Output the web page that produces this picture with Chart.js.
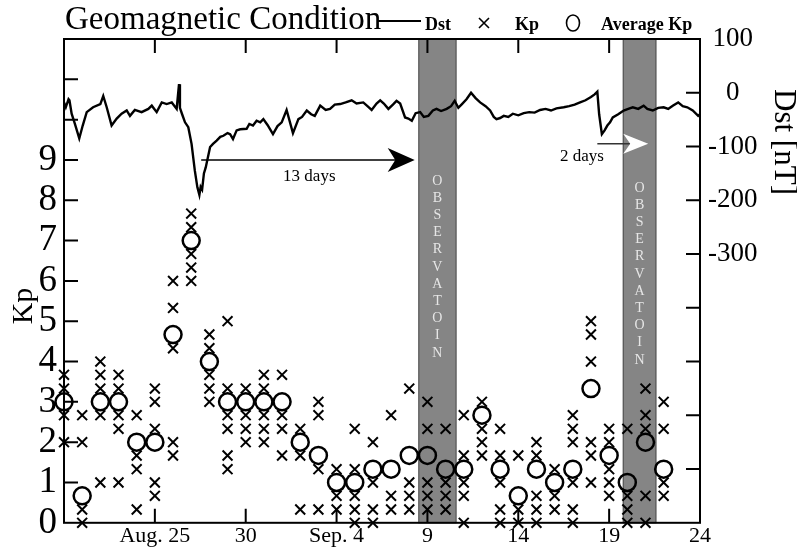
<!DOCTYPE html>
<html lang="en">
<head>
<meta charset="UTF-8">
<title>Geomagnetic Condition</title>
<script src="https://cdn.jsdelivr.net/npm/chart.js"></script>
<style>
    body { margin: 0; background: #fff; }
    canvas { display: block; }
</style>
</head>
<body>
<canvas id="chart" width="797" height="552"></canvas>
<script>
// days counted from Aug. 20 (0) to Sep. 24 (35)
const xTickDays = [5, 10, 15, 20, 25, 30, 35];
const xTickLabels = ['Aug. 25', '30', 'Sep. 4', '9', '14', '19', '24'];

// Dst index [nT]
const dstDays = [0.0, 0.1, 0.25, 0.3, 0.42, 0.6, 0.84, 1.03, 1.25, 1.6, 2.0, 2.16, 2.35, 2.62, 2.9, 3.17, 3.45, 3.63, 3.9, 4.27,
    4.64, 4.83, 5.1, 5.38, 5.65, 5.93, 6.2, 6.33, 6.38, 6.5, 6.66, 6.84, 7.02, 7.2, 7.34, 7.45, 7.52, 7.6, 7.7, 7.8,
    8.04, 8.2, 8.4, 8.6, 8.77, 9.0, 9.14, 9.3, 9.5, 9.7, 10.05, 10.2, 10.4, 10.6, 10.8, 10.97, 11.2, 11.5, 11.75, 11.98,
    12.25, 12.6, 12.9, 13.1, 13.36, 13.6, 13.8, 14.1, 14.4, 14.64, 14.9, 15.2, 15.5, 15.83, 16.1, 16.47, 16.7, 16.93, 17.2, 17.4,
    17.6, 17.85, 18.1, 18.3, 18.5, 18.77, 18.95, 19.14, 19.35, 19.6, 19.8, 20.05, 20.3, 20.5, 20.75, 21.06, 21.3, 21.5, 21.7, 21.9,
    22.15, 22.4, 22.65, 22.9, 23.2, 23.45, 23.65, 23.8, 24.0, 24.2, 24.45, 24.7, 25.0, 25.3, 25.6, 25.9, 26.2, 26.5, 26.8, 27.1,
    27.5, 27.8, 28.1, 28.4, 28.7, 29.0, 29.2, 29.35, 29.45, 29.6, 29.75, 29.9, 30.05, 30.2, 30.5, 30.8, 31.05, 31.3, 31.6, 31.9,
    32.1, 32.4, 32.7, 33.0, 33.25, 33.5, 33.8, 34.05, 34.3, 34.6, 34.9, 35.0];
const dstValues = [-18, -27, -12, -14, -39, -58, -85, -61, -36, -27, -21, -6, -27, -61, -48, -39, -33, -43, -32, -36,
    -30, -24, -36, -18, -21, -18, -30, 16, -28, -40, -55, -64, -95, -145, -176, -190, -175, -180, -150, -139,
    -101, -95, -89, -82, -80, -75, -77, -86, -70, -68, -67, -58, -61, -52, -55, -49, -60, -77, -62, -55,
    -32, -75, -49, -45, -33, -40, -43, -24, -32, -30, -22, -21, -18, -14, -20, -18, -25, -32, -20, -14,
    -20, -30, -22, -15, -20, -46, -48, -52, -38, -36, -45, -43, -33, -30, -34, -30, -25, -15, -28, -21,
    -12, 0, -10, -18, -25, -33, -45, -49, -47, -43, -45, -39, -42, -38, -36, -37, -32, -30, -33, -29,
    -27, -25, -22, -18, -14, -8, -3, 2, -40, -77, -70, -61, -55, -46, -40, -33, -30, -27, -30, -24,
    -30, -33, -28, -27, -30, -24, -18, -25, -27, -33, -43, -40];

// 3-hourly Kp values per day (overlapping values drawn once) and daily average Kp
const kpDays = [0, 1, 2, 3, 4, 5, 6, 7, 8, 9, 10, 11, 12, 13, 14, 15, 16,
    17, 18, 19, 20, 21, 22, 23, 24, 25, 26, 27, 28, 29, 30, 31, 32, 33];
const kpValues = [
    [3.67, 3.33, 2.67, 2.0],
    [2.67, 2.0, 0.33, 0],
    [4.0, 3.67, 3.33, 2.67, 1.0],
    [3.67, 3.33, 2.67, 2.33, 1.0],
    [2.67, 1.67, 1.33, 0.33],
    [3.33, 3.0, 2.33, 1.0, 0.67],
    [6.0, 5.33, 4.33, 2.0, 1.67],
    [7.67, 7.33, 6.67, 6.33, 6.0],
    [4.67, 4.33, 3.67, 3.33, 3.0],
    [5.0, 3.33, 2.67, 2.33, 1.67, 1.33],
    [3.33, 2.67, 2.33, 2.0],
    [3.67, 3.33, 2.67, 2.33, 2.0],
    [3.67, 2.67, 2.33, 1.67],
    [2.33, 1.67, 0.33],
    [3.0, 2.67, 1.33, 0.33],
    [1.33, 0.67, 0.33],
    [2.33, 1.33, 0.67, 0.33, 0],
    [2.0, 1.0, 0.33, 0],
    [2.67, 0.67, 0.33],
    [3.33, 1.0, 0.67, 0.33],
    [3.0, 2.33, 1.0, 0.67, 0.33],
    [2.33, 1.0, 0.67, 0.33],
    [2.67, 1.67, 1.0, 0.67, 0],
    [3.0, 2.33, 2.0, 1.67],
    [2.33, 1.67, 1.0, 0.33, 0],
    [1.67, 0.33, 0],
    [2.0, 1.67, 0.67, 0.33, 0],
    [1.33, 0.67, 0.33],
    [2.67, 2.33, 2.0, 1.0, 0.33, 0],
    [5.0, 4.67, 4.0, 2.0, 1.67, 1.0],
    [2.33, 2.0, 1.33, 1.0, 0.67],
    [2.33, 0.67, 0.33, 0],
    [3.33, 2.67, 2.33, 0.67, 0],
    [3.0, 2.33, 1.0, 0.67]
];
const kpAverage = [3.0, 0.67, 3.0, 3.0, 2.0, 2.0, 4.67, 7.0, 4.0, 3.0, 3.0, 3.0, 3.0, 2.0, 1.67, 1.0, 1.0,
    1.33, 1.33, 1.67, 1.67, 1.33, 1.33, 2.67, 1.33, 0.67, 1.33, 1.0, 1.33, 3.33, 1.67, 1.0, 2.0, 1.33];

// observation windows (days) and the two arrows (from day, to day, Dst level)
const observationPeriods = [[19.5, 21.6], [30.75, 32.6]];
const observationText = 'OBSERVATOIN';
const arrow13 = { from: 7.55, to: 19.3, dst: -125, label: '13 days', labelDay: 13.5, labelDst: -155 };
const arrow2 = { from: 29.35, to: 32.15, dst: -95, label: '2 days', labelDay: 28.5, labelDst: -118 };

const serif = '"Liberation Serif", "Times New Roman", serif';
Chart.defaults.font.family = serif;
Chart.defaults.color = '#000';

const kpPoints = kpDays.flatMap((d, i) => kpValues[i].map(v => ({ x: d, y: v })));
const avgPoints = kpDays.map((d, i) => ({ x: d, y: kpAverage[i] }));
const dstPoints = dstDays.map((d, i) => ({ x: d, y: dstValues[i] }));

function stealthHead(ctx, tipX, y, len, half, color) {
    ctx.beginPath();
    ctx.moveTo(tipX, y);
    ctx.lineTo(tipX - len, y - half);
    ctx.lineTo(tipX - len * 0.72, y);
    ctx.lineTo(tipX - len, y + half);
    ctx.closePath();
    ctx.fillStyle = color;
    ctx.fill();
}

const decorations = {
    id: 'decorations',
    beforeDatasetsDraw(chart) {
        const { ctx, chartArea: a, scales: { x } } = chart;
        ctx.save();
        observationPeriods.forEach(([s, e]) => {
            const x0 = x.getPixelForValue(s), x1 = x.getPixelForValue(e);
            ctx.fillStyle = '#858585';
            ctx.fillRect(x0, a.top, x1 - x0, a.bottom - a.top);
            ctx.strokeStyle = '#505050';
            ctx.lineWidth = 1;
            ctx.strokeRect(x0 + 0.5, a.top, x1 - x0 - 1, a.bottom - a.top);
            // vertical stacked letters
            ctx.fillStyle = '#e6e6e6';
            ctx.font = '14px ' + serif;
            ctx.textAlign = 'center';
            ctx.textBaseline = 'middle';
            const cx = (x0 + x1) / 2;
            const startY = s < 25 ? 181 : 188;
            [...observationText].forEach((ch, i) => ctx.fillText(ch, cx, startY + i * 17.2));
        });
        ctx.restore();
    },
    afterDatasetsDraw(chart) {
        const { ctx, chartArea: a, scales: { x, y, y2 } } = chart;
        ctx.save();
        ctx.strokeStyle = '#000';
        ctx.lineWidth = 2;
        ctx.strokeRect(a.left, a.top, a.right - a.left, a.bottom - a.top);
        const tick = 14;
        ctx.beginPath();
        x.ticks.forEach(t => {
            if (t.value <= x.min || t.value >= x.max) return;
            const px = x.getPixelForValue(t.value);
            ctx.moveTo(px, a.bottom); ctx.lineTo(px, a.bottom - tick);
            ctx.moveTo(px, a.top); ctx.lineTo(px, a.top + tick);
        });
        y.ticks.forEach(t => {
            if (t.value <= y.min || t.value >= y.max) return;
            const py = y.getPixelForValue(t.value);
            ctx.moveTo(a.left, py); ctx.lineTo(a.left + tick, py);
        });
        y2.ticks.forEach(t => {
            if (t.value <= y2.min || t.value >= y2.max) return;
            const py = y2.getPixelForValue(t.value);
            ctx.moveTo(a.right, py); ctx.lineTo(a.right - tick, py);
        });
        ctx.stroke();

        // 13 days arrow
        let ay = y2.getPixelForValue(arrow13.dst);
        let tip = x.getPixelForValue(arrow13.to);
        ctx.lineWidth = 1.5;
        ctx.beginPath();
        ctx.moveTo(x.getPixelForValue(arrow13.from), ay);
        ctx.lineTo(tip - 15, ay);
        ctx.stroke();
        stealthHead(ctx, tip, ay, 27, 12, '#000');
        ctx.font = '17px ' + serif;
        ctx.fillStyle = '#000';
        ctx.textAlign = 'center';
        ctx.textBaseline = 'middle';
        ctx.fillText(arrow13.label, x.getPixelForValue(arrow13.labelDay), y2.getPixelForValue(arrow13.labelDst));

        // 2 days arrow
        ay = y2.getPixelForValue(arrow2.dst);
        tip = x.getPixelForValue(arrow2.to);
        ctx.strokeStyle = '#333';
        ctx.beginPath();
        ctx.moveTo(x.getPixelForValue(arrow2.from), ay);
        ctx.lineTo(tip - 18, ay);
        ctx.stroke();
        stealthHead(ctx, tip, ay, 25, 10, '#fff');
        ctx.fillStyle = '#000';
        ctx.fillText(arrow2.label, x.getPixelForValue(arrow2.labelDay), y2.getPixelForValue(arrow2.labelDst));

        // axis titles
        ctx.font = '30px ' + serif;
        ctx.save();
        ctx.translate(24, 306);
        ctx.rotate(-Math.PI / 2);
        ctx.fillText('Kp', 0, 0);
        ctx.restore();
        ctx.font = '31px ' + serif;
        ctx.save();
        ctx.translate(783, 142);
        ctx.rotate(Math.PI / 2);
        ctx.fillText('Dst [nT]', 0, 0);
        ctx.restore();

        // title and legend
        ctx.textAlign = 'left';
        ctx.textBaseline = 'alphabetic';
        ctx.font = '33px ' + serif;
        ctx.fillText('Geomagnetic Condition', 65, 29);
        ctx.strokeStyle = '#000';
        ctx.lineWidth = 2;
        ctx.beginPath();
        ctx.moveTo(377, 21); ctx.lineTo(421, 21);
        ctx.stroke();
        ctx.font = 'bold 18px ' + serif;
        ctx.fillText('Dst', 425, 30);
        ctx.fillText('Kp', 515, 30);
        ctx.fillText('Average Kp', 601, 30);
        ctx.lineWidth = 1.6;
        ctx.beginPath();
        ctx.moveTo(479, 18); ctx.lineTo(489, 28);
        ctx.moveTo(489, 18); ctx.lineTo(479, 28);
        ctx.stroke();
        ctx.beginPath();
        ctx.ellipse(573, 23, 6.5, 8, 0, 0, Math.PI * 2);
        ctx.stroke();
        ctx.restore();
    }
};

new Chart(document.getElementById('chart').getContext('2d'), {
    type: 'scatter',
    data: {
        datasets: [{
            label: 'Kp',
            data: kpPoints,
            yAxisID: 'y',
            pointStyle: 'crossRot',
            pointRadius: 7,
            borderColor: '#000',
            backgroundColor: '#000',
            borderWidth: 2,
            clip: false
        }, {
            label: 'Average Kp',
            data: avgPoints,
            yAxisID: 'y',
            pointStyle: 'circle',
            pointRadius: 8.5,
            borderColor: '#000',
            backgroundColor: 'rgba(0,0,0,0)',
            borderWidth: 2.5,
            clip: false
        }, {
            label: 'Dst',
            data: dstPoints,
            yAxisID: 'y2',
            showLine: true,
            pointRadius: 0,
            borderColor: '#000',
            borderWidth: 2.4,
            tension: 0
        }]
    },
    options: {
        responsive: false,
        animation: false,
        devicePixelRatio: 1,
        layout: { padding: { top: 39, left: 0, right: 0, bottom: 0 } },
        plugins: { legend: { display: false }, tooltip: { enabled: false } },
        scales: {
            x: {
                type: 'linear', position: 'bottom', min: 0, max: 35,
                afterFit(s) { s.height = 29; },
                grid: { display: false, drawTicks: false },
                border: { display: false },
                ticks: {
                    stepSize: 5, autoSkip: false, maxRotation: 0, padding: 0,
                    font: { size: 22 },
                    callback: v => { const i = xTickDays.indexOf(v); return i < 0 ? '' : xTickLabels[i]; }
                }
            },
            y: {
                position: 'left', min: 0, max: 12,
                afterFit(s) { s.width = 64; },
                grid: { display: false, drawTicks: false },
                border: { display: false },
                ticks: {
                    stepSize: 1, autoSkip: false, padding: 7,
                    font: { size: 37 },
                    callback: v => v <= 9 ? String(v) : ''
                }
            },
            y2: {
                position: 'right', min: -800, max: 100,
                afterFit(s) { s.width = 97; },
                grid: { display: false, drawTicks: false },
                border: { display: false },
                ticks: {
                    stepSize: 100, autoSkip: false, padding: 8, crossAlign: 'center',
                    font: { size: 27 },
                    callback: v => v >= -300 ? String(v) : ''
                }
            }
        }
    },
    plugins: [decorations]
});
</script>
</body>
</html>
